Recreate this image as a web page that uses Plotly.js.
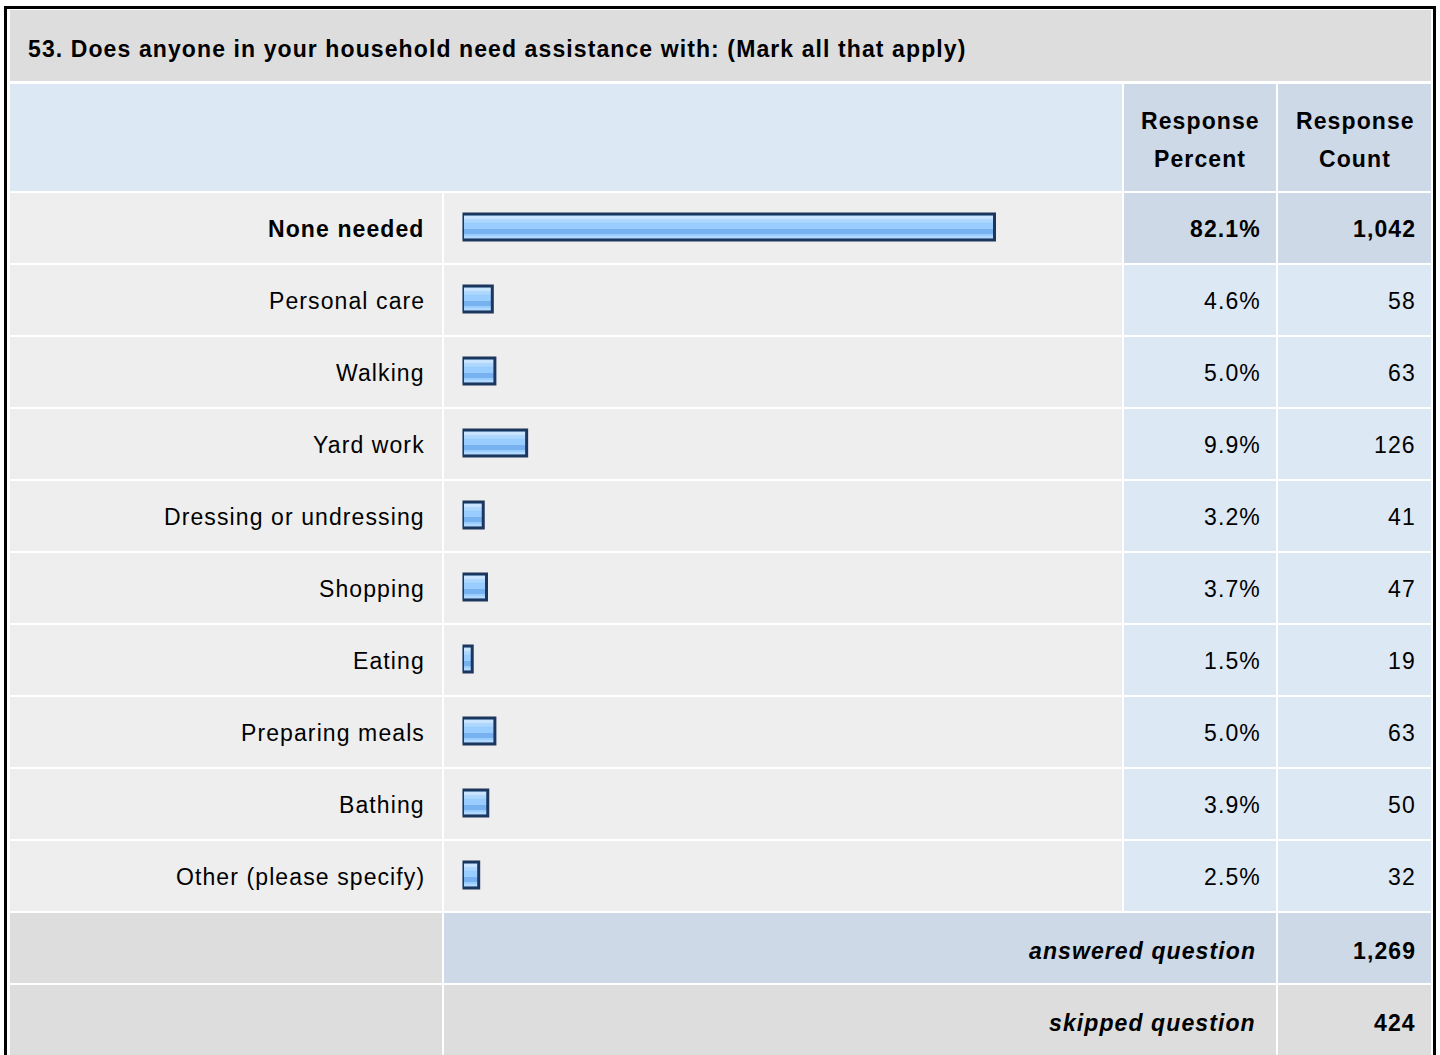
<!DOCTYPE html>
<html>
<head>
<meta charset="utf-8">
<script src="https://cdn.plot.ly/plotly-3.0.1.min.js"></script>
<style>
html,body{margin:0;padding:0;background:#ffffff;overflow:hidden;}
#chart{width:1440px;height:1055px;}
text.annotation-text{letter-spacing:1.1px;}
</style>
</head>
<body>
<div id="chart"></div>
<script>
// ---- data ----
const questionTitle = '53. Does anyone in your household need assistance with: (Mark all that apply)';
const categories = ['None needed','Personal care','Walking','Yard work','Dressing or undressing','Shopping','Eating','Preparing meals','Bathing','Other (please specify)'];
const percents = [82.1, 4.6, 5.0, 9.9, 3.2, 3.7, 1.5, 5.0, 3.9, 2.5];
const counts = [1042, 58, 63, 126, 41, 47, 19, 63, 50, 32];
const headerPercent = ['Response', 'Percent'];
const headerCount = ['Response', 'Count'];
const summaryLabels = ['answered question', 'skipped question'];
const summaryValues = [1269, 424];

// ---- geometry helpers (page pixels -> paper) ----
const W = 1440, H = 1055;
const px = x => x / W;
const py = y => 1 - y / H;
const FONT = 'Liberation Sans, Arial, Helvetica, sans-serif';
const FS = 23;

const topMaxIdx = percents.indexOf(Math.max(...percents));
const fmtPct = v => v.toFixed(1) + '%';
const fmtCnt = v => v.toLocaleString('en-US');

// ---- table cell backgrounds ----
const shapes = [];
function cell(x0, y0, x1, y1, color) {
  shapes.push({type:'rect', xref:'paper', yref:'paper', layer:'below',
    x0:px(x0), x1:px(x1), y0:py(y1), y1:py(y0), fillcolor:color, line:{width:0}});
}
// outer frame
shapes.push({type:'rect', xref:'paper', yref:'paper', layer:'below',
  x0:px(5.5), x1:px(1434.5), y0:py(1070), y1:py(7.5), fillcolor:'#ffffff', line:{color:'#000000', width:3}});
// title
cell(10, 10, 1431, 81, '#dddddd');
// header
cell(10, 84, 1122, 191, '#dde8f5');
cell(1124, 84, 1276, 191, '#cdd9e6');
cell(1278, 84, 1431, 191, '#cdd9e6');
// rows
categories.forEach((c, i) => {
  const y0 = 193 + 72 * i, y1 = y0 + 70;
  const valColor = i === topMaxIdx ? '#cdd9e6' : '#dde8f5';
  cell(10, y0, 442, y1, '#eeeeee');
  cell(444, y0, 1122, y1, '#eeeeee');
  cell(1124, y0, 1276, y1, valColor);
  cell(1278, y0, 1431, y1, valColor);
});
// summary rows
cell(10, 913, 442, 983, '#dddddd');
cell(444, 913, 1276, 983, '#cdd9e6');
cell(1278, 913, 1431, 983, '#cdd9e6');
cell(10, 985, 442, 1070, '#dddddd');
cell(444, 985, 1276, 1070, '#dddddd');
cell(1278, 985, 1431, 1070, '#dddddd');

// ---- annotations ----
const annotations = [];
function txt(text, x, y, anchor, opts) {
  annotations.push(Object.assign({text:text, xref:'paper', yref:'paper', x:px(x), y:py(y),
    xanchor:anchor, yanchor:'middle', showarrow:false,
    font:{family:FONT, size:FS, color:'#000000'}}, opts || {}));
}
txt('<b>' + questionTitle + '</b>', 26, 49, 'left');
txt('<b>' + headerPercent[0] + '</b>', 1200, 121, 'center');
txt('<b>' + headerPercent[1] + '</b>', 1200, 159, 'center');
txt('<b>' + headerCount[0] + '</b>', 1355, 121, 'center');
txt('<b>' + headerCount[1] + '</b>', 1355, 159, 'center');
categories.forEach((c, i) => {
  const b = i === topMaxIdx;
  const wrap = s => b ? '<b>' + s + '</b>' : s;
  const common = {yref:'y', y:i, yanchor:'middle', yshift:-2};
  annotations.push(Object.assign({text:wrap(c), xref:'paper', x:px(427), xanchor:'right', showarrow:false,
    font:{family:FONT, size:FS, color:'#000000'}}, common));
  annotations.push(Object.assign({text:wrap(fmtPct(percents[i])), xref:'paper', x:px(1263), xanchor:'right', showarrow:false,
    font:{family:FONT, size:FS, color:'#000000'}}, common));
  annotations.push(Object.assign({text:wrap(fmtCnt(counts[i])), xref:'paper', x:px(1418), xanchor:'right', showarrow:false,
    font:{family:FONT, size:FS, color:'#000000'}}, common));
});
txt('<b><i>' + summaryLabels[0] + '</i></b>', 1258, 951, 'right');
txt('<b>' + fmtCnt(summaryValues[0]) + '</b>', 1418, 951, 'right');
txt('<b><i>' + summaryLabels[1] + '</i></b>', 1258, 1023, 'right');
txt('<b>' + fmtCnt(summaryValues[1]) + '</b>', 1418, 1023, 'right');

// ---- bars (layered to imitate the glossy striped bar) ----
const rowPx = 72;
const baseBar = {type:'bar', orientation:'h', x:percents, y:categories, hoverinfo:'skip',
  width:26 / rowPx, marker:{color:'#99ccff', line:{width:0}}};
const hiBand = {type:'bar', orientation:'h', x:percents, y:categories, hoverinfo:'skip',
  width:4 / rowPx, offset:-11.5 / rowPx, marker:{color:'#c8e4ff', line:{width:0}}};
const hiBand2 = {type:'bar', orientation:'h', x:percents, y:categories, hoverinfo:'skip',
  width:3 / rowPx, offset:-7.5 / rowPx, marker:{color:'#b0d8ff', line:{width:0}}};
const darkBand = {type:'bar', orientation:'h', x:percents, y:categories, hoverinfo:'skip',
  width:5 / rowPx, offset:2 / rowPx, marker:{color:'#78b1f0', line:{width:0}}};
const loBand = {type:'bar', orientation:'h', x:percents, y:categories, hoverinfo:'skip',
  width:2 / rowPx, offset:9 / rowPx, marker:{color:'#b3d9ff', line:{width:0}}};
const frame = {type:'bar', orientation:'h', x:percents, y:categories, hoverinfo:'skip',
  width:26 / rowPx, marker:{color:'rgba(0,0,0,0)', line:{color:'#1c365e', width:3}}};

const layout = {
  width: W, height: H,
  margin:{l:0, r:0, t:0, b:0, pad:0},
  paper_bgcolor:'#ffffff', plot_bgcolor:'rgba(0,0,0,0)',
  showlegend:false, barmode:'overlay',
  xaxis:{domain:[px(462.5), px(1110.5)], range:[0, 100], visible:false, fixedrange:true},
  yaxis:{domain:[py(911), py(191)], type:'category', categoryorder:'array', categoryarray:categories,
    range:[categories.length - 0.5, -0.5], visible:false, fixedrange:true},
  shapes: shapes,
  annotations: annotations
};

Plotly.newPlot('chart', [baseBar, hiBand, hiBand2, darkBand, loBand, frame], layout,
  {staticPlot:true, displayModeBar:false});
</script>
</body>
</html>
